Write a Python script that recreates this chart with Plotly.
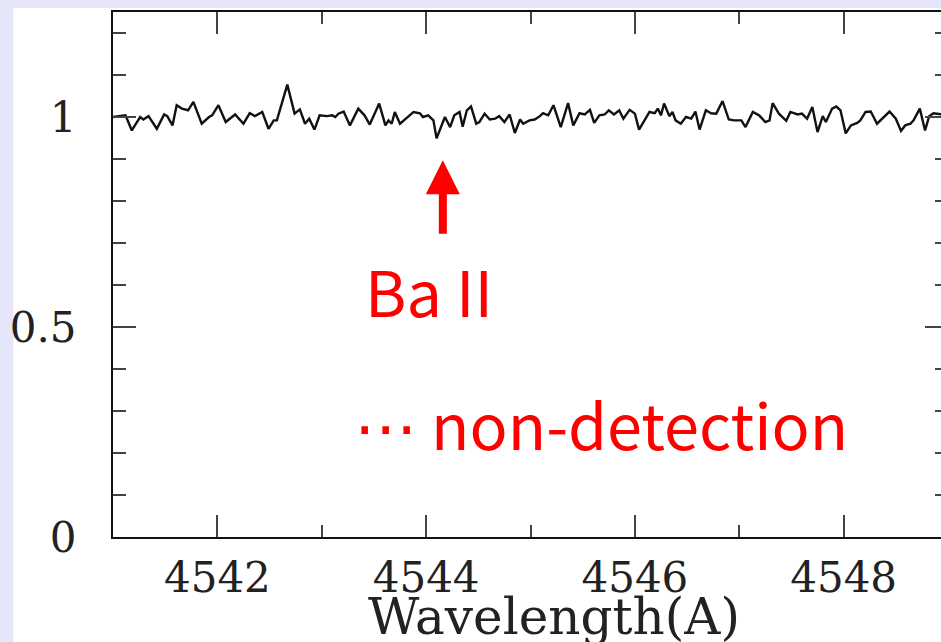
import plotly.graph_objects as go

# ---- data ----
wavelength = [
    4541.00, 4541.12, 4541.18, 4541.26, 4541.29, 4541.34, 4541.42, 4541.49, 4541.52, 4541.57,
    4541.61, 4541.66, 4541.72, 4541.77, 4541.85, 4541.92, 4541.95, 4542.01, 4542.08, 4542.17,
    4542.25, 4542.31, 4542.36, 4542.43, 4542.49, 4542.54, 4542.57, 4542.62, 4542.67, 4542.74,
    4542.79, 4542.84, 4542.88, 4542.93, 4542.98, 4543.05, 4543.10, 4543.13, 4543.16, 4543.21,
    4543.27, 4543.35, 4543.41, 4543.46, 4543.55, 4543.61, 4543.64, 4543.67, 4543.70, 4543.75,
    4543.81, 4543.88, 4543.94, 4543.97, 4544.02, 4544.07, 4544.10, 4544.14, 4544.18, 4544.23,
    4544.27, 4544.32, 4544.35, 4544.39, 4544.43, 4544.48, 4544.51, 4544.56, 4544.61, 4544.66,
    4544.70, 4544.75, 4544.80, 4544.85, 4544.90, 4544.93, 4544.99, 4545.04, 4545.09, 4545.12,
    4545.17, 4545.22, 4545.29, 4545.36, 4545.41, 4545.47, 4545.52, 4545.57, 4545.61, 4545.66,
    4545.71, 4545.75, 4545.80, 4545.85, 4545.89, 4545.95, 4546.00, 4546.04, 4546.09, 4546.14,
    4546.19, 4546.22, 4546.25, 4546.28, 4546.33, 4546.36, 4546.39, 4546.44, 4546.49, 4546.54,
    4546.58, 4546.62, 4546.68, 4546.73, 4546.78, 4546.84, 4546.90, 4546.95, 4547.02, 4547.06,
    4547.13, 4547.19, 4547.25, 4547.29, 4547.32, 4547.38, 4547.45, 4547.49, 4547.56, 4547.60,
    4547.65, 4547.70, 4547.75, 4547.80, 4547.83, 4547.89, 4547.93, 4547.97, 4548.02, 4548.07,
    4548.13, 4548.16, 4548.21, 4548.26, 4548.32, 4548.39, 4548.44, 4548.50, 4548.55, 4548.59,
    4548.64, 4548.67, 4548.73, 4548.78, 4548.82, 4548.86, 4548.89, 4548.94, 4549.00,
]
flux = [
    1.000, 1.004, 0.968, 1.000, 0.994, 1.002, 0.972, 1.006, 1.002, 0.980,
    1.028, 1.020, 1.016, 1.036, 0.984, 1.000, 1.004, 1.028, 0.988, 1.006,
    0.984, 1.009, 1.002, 1.012, 0.972, 0.992, 0.992, 1.032, 1.077, 1.008,
    1.018, 0.984, 0.996, 0.970, 1.004, 1.002, 1.004, 1.000, 1.008, 1.013,
    0.980, 1.020, 1.004, 0.982, 1.032, 0.980, 0.992, 0.984, 1.012, 0.984,
    0.996, 1.012, 1.009, 1.000, 1.004, 0.992, 0.949, 0.976, 1.000, 0.976,
    1.004, 1.012, 0.977, 1.016, 1.025, 0.984, 0.988, 1.008, 0.994, 0.996,
    1.002, 0.988, 1.006, 0.962, 0.994, 0.984, 0.992, 0.994, 1.002, 1.009,
    1.004, 1.028, 0.976, 1.033, 0.980, 1.009, 1.006, 1.017, 0.986, 1.004,
    1.006, 1.016, 1.006, 1.016, 0.996, 1.017, 1.008, 0.970, 0.992, 1.012,
    1.009, 1.020, 1.004, 1.032, 1.002, 1.012, 0.992, 0.984, 1.000, 0.996,
    1.013, 0.970, 1.016, 1.009, 1.008, 1.038, 0.994, 0.992, 0.992, 0.976,
    1.012, 1.004, 0.988, 0.992, 1.033, 1.008, 0.991, 1.012, 1.006, 1.008,
    0.996, 1.024, 0.964, 1.002, 0.988, 1.020, 1.025, 1.016, 0.961, 0.980,
    0.986, 0.992, 1.012, 1.013, 0.984, 1.000, 1.013, 0.996, 0.967, 0.980,
    0.984, 0.992, 1.020, 0.968, 1.002, 1.009, 1.008, 1.006, 1.004,
]

x_range = [4541, 4549]
y_range = [0, 1.25]
x_tickvals = [4542, 4544, 4546, 4548]
y_tickvals = [0, 0.5, 1]
y_ticktext = ["0", "0.5", "1"]

line_label = "Ba II"
line_position = 4544.16
line_arrow_tip = 0.897
note_dots = "\u22ef"
note_words = "non-detection"
x_title = "Wavelength(A)"

# ---- layout geometry (pixels) ----
W, H = 960, 642
L, R, T, B = 110, 12, 10, 105
pw, ph = W - L - R, H - T - B


def px_to_paper_x(px):
    return (px - L) / pw


def px_to_paper_y(py):
    return (H - B - py) / ph


fig = go.Figure()
fig.add_trace(go.Scatter(
    x=wavelength, y=flux, mode="lines",
    line=dict(color="#111111", width=2.4),
    showlegend=False, hoverinfo="skip",
))

tick_font = dict(family="DejaVu Serif", size=42, color="#222222")
axis_common = dict(
    showgrid=False, zeroline=False,
    showline=True, linecolor="#111111", linewidth=2,
    mirror="ticks", ticks="inside", tickcolor="#444444", tickwidth=2,
    tickfont=tick_font,
)

fig.update_xaxes(
    range=x_range, tickvals=x_tickvals, ticklen=22,
    ticklabelstandoff=3,
    minor=dict(dtick=1, ticks="inside", ticklen=12, tickwidth=2, tickcolor="#444444"),
    **axis_common,
)
fig.update_yaxes(
    range=y_range, tickvals=y_tickvals, ticktext=y_ticktext, ticklen=23,
    ticklabelstandoff=26,
    minor=dict(dtick=0.1, ticks="inside", ticklen=13, tickwidth=2, tickcolor="#444444"),
    **axis_common,
)

red_font = dict(family="Noto Sans CJK JP", size=63, color="#ff0000")
note_html = ("<span style=\"font-family:'DejaVu Sans'\">" + note_dots + "</span> "
             + note_words)

annotations = [
    # arrow marking the Ba II line
    dict(x=line_position, y=line_arrow_tip, xref="x", yref="y", text="",
         showarrow=True, ax=0, ay=75, arrowhead=2, arrowsize=0.85,
         arrowwidth=8, arrowcolor="#ff0000", standoff=0),
    dict(x=4544.03, y=0.59, xref="x", yref="y", text=line_label,
         showarrow=False, font=red_font, xanchor="center", yanchor="middle"),
    dict(x=4545.68, y=0.2725, xref="x", yref="y", text=note_html,
         showarrow=False, font=red_font, xanchor="center", yanchor="middle"),
    dict(x=px_to_paper_x(553), y=px_to_paper_y(617), xref="paper", yref="paper",
         text=x_title, showarrow=False,
         font=dict(family="DejaVu Serif", size=50, color="#222222"),
         xanchor="center", yanchor="middle"),
]

fig.update_layout(
    width=W, height=H,
    margin=dict(l=L, r=R, t=T, b=B, pad=0),
    paper_bgcolor="#e6e6fa",
    plot_bgcolor="#ffffff",
    annotations=annotations,
    shapes=[dict(type="rect", xref="paper", yref="paper",
                 x0=px_to_paper_x(10), x1=px_to_paper_x(W + 5),
                 y0=px_to_paper_y(H + 5), y1=px_to_paper_y(6),
                 fillcolor="#ffffff", line=dict(width=0), layer="below")],
)

fig.write_html(
    "out.html",
    config={"displayModeBar": False},
    post_script="document.documentElement.style.overflow='hidden';"
                "document.body.style.overflow='hidden';document.body.style.margin='0';",
)
